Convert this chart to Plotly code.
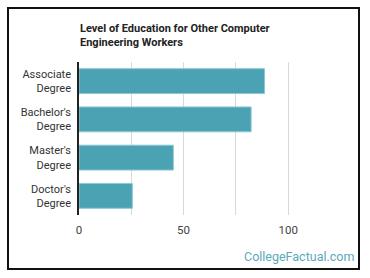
import plotly.graph_objects as go

categories = ["Associate<br>Degree", "Bachelor's<br>Degree", "Master's<br>Degree", "Doctor's<br>Degree"]
values = [88.7, 82.3, 45.1, 25.5]
tick_vals = [0, 25, 50, 75, 100]
tick_text = ["0", "", "50", "", "100"]

W, H = 370, 278
L, R, T, B = 79, 40, 62, 63
pw = W - L - R
ph = H - T - B

def px(x):
    return (x - L) / pw

def py(y):
    return (H - B - y) / ph

fig = go.Figure(go.Bar(
    x=values, y=categories, orientation="h",
    marker=dict(color="#4aa2b3", line=dict(color="#8cc8d4", width=1)),
    width=0.65,
))

fig.update_layout(
    width=W, height=H,
    margin=dict(l=L, r=R, t=T, b=B),
    paper_bgcolor="white", plot_bgcolor="white",
    showlegend=False,
    font=dict(family="Roboto", size=11, color="#333"),
    xaxis=dict(range=[0, 120], tickvals=tick_vals, ticktext=tick_text,
               showgrid=True, gridcolor="#d9d9d9", gridwidth=1,
               zeroline=False, showline=False, ticks="",
               tickfont=dict(size=11.5, color="#444"), ticklabelstandoff=6,
               fixedrange=True),
    yaxis=dict(autorange="reversed", showline=True, linecolor="#222", linewidth=1.5,
               ticks="", showgrid=False, tickfont=dict(size=11, color="#333"),
               ticklabelstandoff=4),
    shapes=[dict(type="rect", xref="paper", yref="paper",
                 x0=px(8), x1=px(359), y0=py(269), y1=py(8),
                 line=dict(color="#111", width=2), fillcolor="rgba(0,0,0,0)", layer="above")],
    annotations=[
        dict(text="<b>Level of Education for Other Computer<br>Engineering Workers</b>",
             xref="paper", yref="paper", x=px(78), y=py(20), xanchor="left", yanchor="top",
             align="left", showarrow=False, font=dict(size=11, color="#222", family="Roboto")),
        dict(text="CollegeFactual.com", xref="paper", yref="paper",
             x=px(356), y=py(256), xanchor="right", yanchor="middle", showarrow=False,
             font=dict(size=12.5, color="#5aa9bd", family="Roboto")),
    ],
)

fig.write_html("out.html")
